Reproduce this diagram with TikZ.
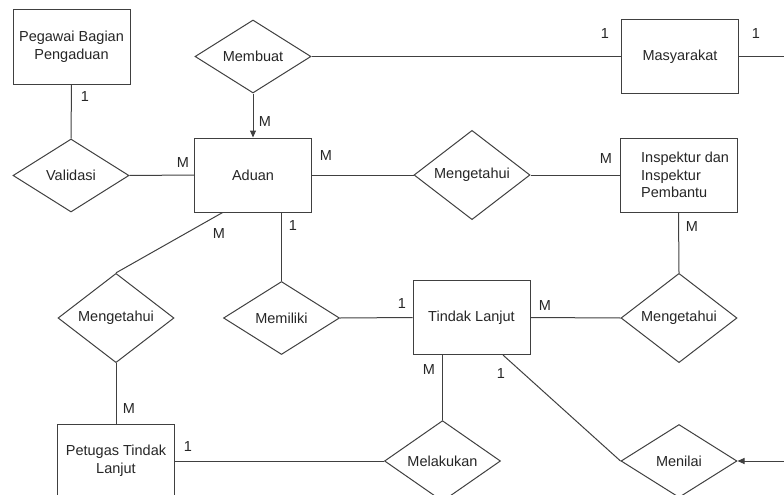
\documentclass[tikz,border=0pt]{standalone}
\usepackage{fontspec}
\setmainfont{Liberation Sans}
\usetikzlibrary{shapes.geometric,arrows.meta}
\begin{document}
\begin{tikzpicture}[x=1pt,y=-1pt,
  ent/.style={draw=black!75, line width=1pt, fill=white, minimum width=117pt, minimum height=74pt, inner sep=0pt, align=center, font=\fontsize{14.5}{18}\selectfont, text=black!85},
  rel/.style={draw=black!75, line width=1pt, fill=white, diamond, minimum width=116pt, minimum height=73pt, inner sep=0pt, font=\fontsize{14.5}{18}\selectfont, text=black!85},
  conn/.style={draw=black!75, line width=1pt},
  card/.style={font=\fontsize{14.5}{17}\selectfont, text=black!85, inner sep=0pt},
  tip/.style={-{Triangle[length=7pt,width=6pt]}}
]
\useasboundingbox (0,0) rectangle (784,495);
\clip (0,0) rectangle (784,495);

% entities
\node[ent] (pegawai) at (71.5,47) {Pegawai Bagian\\Pengaduan};
\node[ent] (aduan) at (253,175) {Aduan};
\node[ent] (masy) at (680,56.5) {Masyarakat};
\node[ent] (insp) at (678.5,175) {};
\node[anchor=west, align=left, inner sep=0pt, font=\fontsize{14.5}{17.5}\selectfont, text=black!85] (insptext) at (641,175) {Inspektur dan\\Inspektur\\Pembantu};
\node[ent] (tl) at (471.5,317.5) {Tindak Lanjut};
\node[ent] (petugas) at (116,461) {Petugas Tindak\\Lanjut};

% relationships
\node[rel] (membuat) at (253,56.5) {Membuat};
\node[rel] (validasi) at (71,175.5) {Validasi};
\node[rel] (meng1) at (472,175) {Mengetahui};
\node[rel] (meng2) at (116,318) {Mengetahui};
\node[rel] (memiliki) at (281.5,318) {Memiliki};
\node[rel] (meng3) at (679,318) {Mengetahui};
\node[rel] (melakukan) at (442.5,461) {Melakukan};
\node[rel] (menilai) at (679,461) {Menilai};

\coordinate (offR) at (790,56.5);
\coordinate (offR2) at (790,461);

% connectors
\draw[conn,tip] (membuat.south) -- (aduan.north);
\draw[conn] (pegawai.south) -- (validasi.north);
\draw[conn] (validasi.east) -- (aduan.west);
\draw[conn] (membuat.east) -- (masy.west);
\draw[conn] (masy.east) -- (offR);
\draw[conn] (aduan.east) -- (meng1.west);
\draw[conn] (meng1.east) -- (insp.west);
\draw[conn] (insp.south) -- (meng3.north);
\draw[conn] (aduan.231) -- (meng2.north);
\draw[conn] (aduan.south -| memiliki.north) -- (memiliki.north);
\draw[conn] (meng2.south) -- (petugas.north);
\draw[conn] (memiliki.east) -- (tl.west);
\draw[conn] (tl.east) -- (meng3.west);
\draw[conn] (tl.south -| melakukan.north) -- (melakukan.north);
\draw[conn] (tl.310) -- (menilai.west);
\draw[conn] (petugas.east) -- (melakukan.west);
\draw[conn,tip] (offR2) -- (menilai.east);

% cardinalities
\node[card] (c1) at (85,97) {1};
\node[card] (c2) at (265,122) {M};
\node[card] (c3) at (183,163) {M};
\node[card] (c4) at (293,226) {1};
\node[card] (c5) at (219,234) {M};
\node[card] (c6) at (326,156) {M};
\node[card] (c7) at (605,34) {1};
\node[card] (c8) at (756,34) {1};
\node[card] (c9) at (606,159) {M};
\node[card] (c10) at (692,227) {M};
\node[card] (c11) at (402,304) {1};
\node[card] (c12) at (545,306) {M};
\node[card] (c13) at (429,370) {M};
\node[card] (c14) at (501,374) {1};
\node[card] (c15) at (129,409) {M};
\node[card] (c16) at (188,447) {1};
\end{tikzpicture}
\end{document}
